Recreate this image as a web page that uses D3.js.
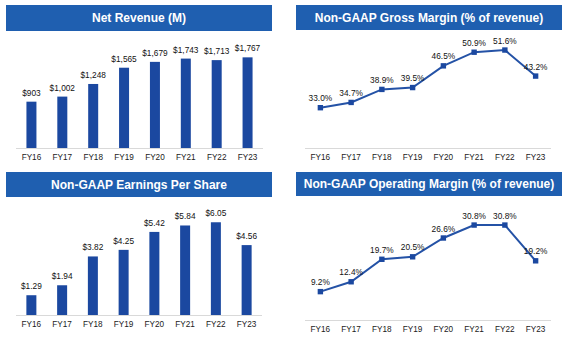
<!DOCTYPE html>
<html>
<head>
<meta charset="utf-8">
<script src="https://cdn.jsdelivr.net/npm/d3@7"></script>
<style>
  body { margin: 0; background: #fff; }
  svg text { font-family: "Liberation Sans", Arial, sans-serif; }
</style>
</head>
<body>
<svg id="chart" width="567" height="338"></svg>
<script>
const years = ['FY16', 'FY17', 'FY18', 'FY19', 'FY20', 'FY21', 'FY22', 'FY23'];
const revenue = [903, 1002, 1248, 1565, 1679, 1743, 1713, 1767];
const eps = [1.29, 1.94, 3.82, 4.25, 5.42, 5.84, 6.05, 4.56];
const grossMargin = [33.0, 34.7, 38.9, 39.5, 46.5, 50.9, 51.6, 43.2];
const opMargin = [9.2, 12.4, 19.7, 20.5, 26.6, 30.8, 30.8, 19.2];

const titleBlue = '#1f5fb0';
const markBlue = '#1b48a0';
const lineBlue = '#2452a6';

const svg = d3.select('#chart');

function panel(opts) {
    const g = svg.append('g');
    // header bar
    g.append('rect')
        .attr('x', opts.bx).attr('y', opts.by)
        .attr('width', opts.bw).attr('height', opts.bh)
        .attr('fill', titleBlue);
    g.append('text')
        .attr('x', opts.bx + opts.bw / 2)
        .attr('y', opts.by + opts.bh / 2 + 4.3)
        .attr('text-anchor', 'middle')
        .attr('fill', '#fff')
        .attr('font-size', 12)
        .attr('font-weight', 'bold')
        .text(opts.title);

    const x = d3.scaleBand().domain(years).range([opts.x0, opts.x1]);
    const y = d3.scaleLinear().domain(opts.domain).range([opts.base, opts.top]);

    g.append('line')
        .attr('x1', opts.x0).attr('x2', opts.x1)
        .attr('y1', opts.base + 0.5).attr('y2', opts.base + 0.5)
        .attr('stroke', '#d9d9d9');

    const axis = d3.axisBottom(x).tickSize(0).tickPadding(6);
    g.append('g')
        .attr('transform', `translate(0,${opts.base})`)
        .call(axis)
        .call(a => a.select('.domain').remove())
        .selectAll('text')
        .attr('font-size', 8.2)
        .attr('fill', '#1a1a1a')
        .attr('font-family', '"Liberation Sans", Arial, sans-serif');

    const data = opts.values.map((v, i) => ({ year: years[i], v }));
    const cx = d => x(d.year) + x.bandwidth() / 2;

    if (opts.type === 'bar') {
        const bw = 10;
        g.selectAll('rect.bar')
            .data(data)
            .enter()
            .append('rect')
            .attr('class', 'bar')
            .attr('x', d => cx(d) - bw / 2)
            .attr('y', d => y(d.v))
            .attr('width', bw)
            .attr('height', d => y(opts.domain[0]) - y(d.v))
            .attr('fill', markBlue);
    } else {
        const line = d3.line().x(cx).y(d => y(d.v));
        g.append('path')
            .datum(data)
            .attr('d', line)
            .attr('fill', 'none')
            .attr('stroke', lineBlue)
            .attr('stroke-width', 2);
        g.selectAll('rect.pt')
            .data(data)
            .enter()
            .append('rect')
            .attr('class', 'pt')
            .attr('x', d => cx(d) - 2.7)
            .attr('y', d => y(d.v) - 2.7)
            .attr('width', 5.4)
            .attr('height', 5.4)
            .attr('fill', markBlue);
    }

    g.selectAll('text.val')
        .data(data)
        .enter()
        .append('text')
        .attr('class', 'val')
        .attr('x', cx)
        .attr('y', d => y(d.v) - opts.lift)
        .attr('text-anchor', 'middle')
        .attr('font-size', 8.3)
        .attr('fill', '#111')
        .text(d => opts.fmt(d.v));
}

panel({
    title: 'Net Revenue (M)', type: 'bar', values: revenue,
    bx: 6, by: 5, bw: 266, bh: 26,
    x0: 16, x1: 263, base: 148, top: 45.4, domain: [0, 2000],
    lift: 6, fmt: v => '$' + d3.format(',')(v)
});

panel({
    title: 'Non-GAAP Gross Margin (% of revenue)', type: 'line', values: grossMargin,
    bx: 296, by: 5, bw: 266, bh: 25,
    x0: 305, x1: 551, base: 148, top: 24, domain: [20, 60],
    lift: 6.5, fmt: v => v.toFixed(1) + '%'
});

panel({
    title: 'Non-GAAP Earnings Per Share', type: 'bar', values: eps,
    bx: 6, by: 172, bw: 266, bh: 25,
    x0: 16, x1: 262, base: 315, top: 207.7, domain: [0, 7],
    lift: 6, fmt: v => '$' + v.toFixed(2)
});

panel({
    title: 'Non-GAAP Operating Margin (% of revenue)', type: 'line', values: opMargin,
    bx: 296, by: 172, bw: 266, bh: 24,
    x0: 305, x1: 551, base: 320, top: 196.7, domain: [0, 40],
    lift: 6.5, fmt: v => v.toFixed(1) + '%'
});
</script>
</body>
</html>
